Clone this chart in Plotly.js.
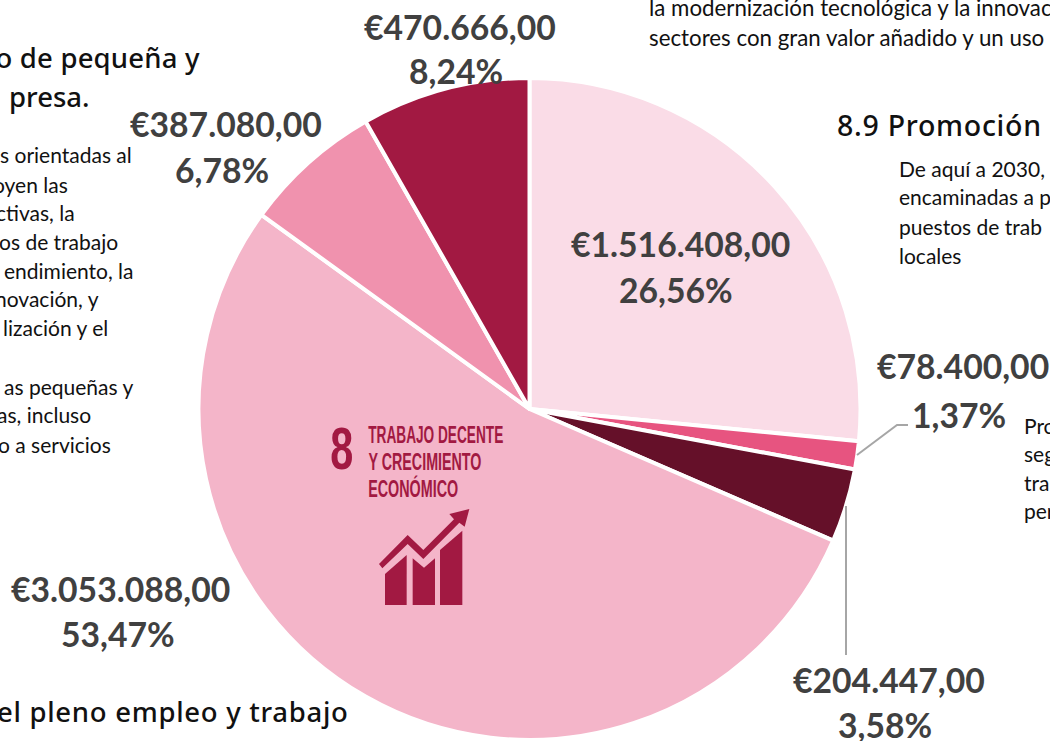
<!DOCTYPE html>
<html><head><meta charset="utf-8">
<script src="https://cdn.plot.ly/plotly-3.0.1.min.js"></script>
<style>html,body{margin:0;padding:0;background:#fff;overflow:hidden}#c{width:1050px;height:741px}</style>
</head><body><div id="c"></div>
<script>
const W = 1050, H = 741;
const categories = ['Meta 8.2','Meta 8.8','Meta 8.9','Meta 8.5','Meta 8.3','Meta 8.1'];
const values = [1516408, 78400, 204447, 3053088, 387080, 470666];
const sliceColors = ['#FADCE7','#E75480','#651029','#F4B5C9','#F092AE','#A21942'];
const amountLabels = ['€1.516.408,00','€78.400,00','€204.447,00','€3.053.088,00','€387.080,00','€470.666,00'];
const percentLabels = ['26,56%','1,37%','3,58%','53,47%','6,78%','8,24%'];
const amountPos = [[680,244],[963,366],[889,680],[120,589],[226,124],[460,27]];
const percentPos = [[676,290],[959,415],[885,725],[118,634],[222,170],[456,71]];

const BODY = 'Lato, Carlito, sans-serif', HEAD = '"Noto Sans", Roboto, sans-serif';
const NARROW = '"Liberation Sans", sans-serif';
const px = x => x / W, py = y => 1 - y / H;
const cx = 529.5, cy = 409, R = 331;

const ann = (text, x, y, size, color, anchor, font, weight) => ({
  text, x: px(x), y: py(y), xref:'paper', yref:'paper', xanchor:anchor, yanchor:'middle',
  showarrow:false, align: anchor, borderpad:0,
  font:{family:font, size, color, weight: weight||400}
});

const annotations = [];
amountLabels.forEach((t,i)=>annotations.push(ann(t, amountPos[i][0], amountPos[i][1], 33.7, '#404040','center',BODY,700)));
percentLabels.forEach((t,i)=>annotations.push(ann(t, percentPos[i][0], percentPos[i][1], 33.7, '#404040','center',BODY,700)));

[['o de pequeña y',201,58],['presa.',91,96]].forEach(a=>annotations.push(ann(a[0],a[1],a[2],27.5,'#111','right',HEAD,500)));
annotations.push(ann('8.9 Promoción',836,125,28.5,'#111','left',HEAD,500));
annotations.push(ann('el pleno empleo y trabajo',349,711,27.5,'#111','right',HEAD,500));

const leftBody = [['s orientadas al',133,155],['oyen las',69,184],['ctivas, la',76,213],['os de trabajo',119,242],['endimiento, la',135,270],['novación, y',100,299],['lización y el',109,328],['as pequeñas y',134,386],['as, incluso',92,415],['o a servicios',112,444]];
leftBody.forEach(a=>annotations.push(ann(a[0],a[1],a[2],21,'#111','right',BODY)));
const leftAligned = [['De aquí a 2030,',898,168],['encaminadas a p',898,197],['puestos de trab',898,226],['locales',898,255],['Pro',1023,425],['seg',1023,453],['tra',1023,482],['per',1023,511]];
leftAligned.forEach(a=>annotations.push(ann(a[0],a[1],a[2],21,'#111','left',BODY)));
[['la modernización tecnológica y la innovac',648,8],['sectores con gran valor añadido y un uso',648,37]].forEach(a=>annotations.push(ann(a[0],a[1],a[2],22.3,'#111','left',BODY)));

// SDG 8 emblem text, fitted below after drawing
const emblem = [['8',341.5,448,60,23],['TRABAJO DECENTE',435.5,435,23,135],['Y CRECIMIENTO',424.5,462,23,113],['ECONÓMICO',413,488,23,90]];
emblem.forEach(a=>annotations.push(ann(a[0],a[1],a[2],a[3],'#A21942','center',NARROW,700)));
const headingWidths = {'o de pequeña y':204,'8.9 Promoción':204,'el pleno empleo y trabajo':351};

const icon = [
 [[225,492],[290,435],[290,585],[225,585]],
 [[308,445],[342,473],[375,445],[375,585],[308,585]],
 [[390,420],[457,362],[457,585],[390,585]],
 [[207,462],[293,375],[340,420],[432,328],[418,312],[478,297],[464,350],[448,338],[340,447],[293,402],[217,475]]
];
const path = pts => 'M' + pts.map(p=>px(310+p[0]/3)+' '+py(410+p[1]/3)).join(' L') + ' Z';
const shapes = icon.map(p=>({type:'path',xref:'paper',yref:'paper',path:path(p),fillcolor:'#A21942',line:{width:0},layer:'above'}));

const leader = pts => ({type:'path',xref:'paper',yref:'paper',
  path:'M'+pts.map(p=>px(p[0])+' '+py(p[1])).join(' L'),line:{color:'#A6A6A6',width:2},fillcolor:'rgba(0,0,0,0)',layer:'above'});
shapes.push(leader([[857,455],[897,425],[908,425]]));
shapes.push(leader([[846,506],[846,655]]));

Plotly.newPlot('c',[{
  type:'pie', labels:categories, values:values, sort:false, direction:'clockwise', rotation:0,
  textinfo:'none', hoverinfo:'label+value+percent',
  marker:{colors:sliceColors, line:{color:'#fff',width:4}},
  domain:{x:[px(cx-R),px(cx+R)], y:[py(cy+R),py(cy-R)]}
}],{
  width:W,height:H,margin:{l:0,r:0,t:0,b:0},showlegend:false,
  paper_bgcolor:'#fff',plot_bgcolor:'#fff',annotations,shapes
},{displayModeBar:false,responsive:false}).then(()=>{
  document.querySelectorAll('.annotation-text').forEach(t=>{
    const s = t.textContent, e = emblem.find(a=>a[0]===s);
    if(e){ t.setAttribute('textLength', e[4]); t.setAttribute('lengthAdjust','spacingAndGlyphs'); }
    else if(headingWidths[s]){ t.setAttribute('textLength', headingWidths[s]); t.setAttribute('lengthAdjust','spacing'); }
  });
});
</script></body></html>
